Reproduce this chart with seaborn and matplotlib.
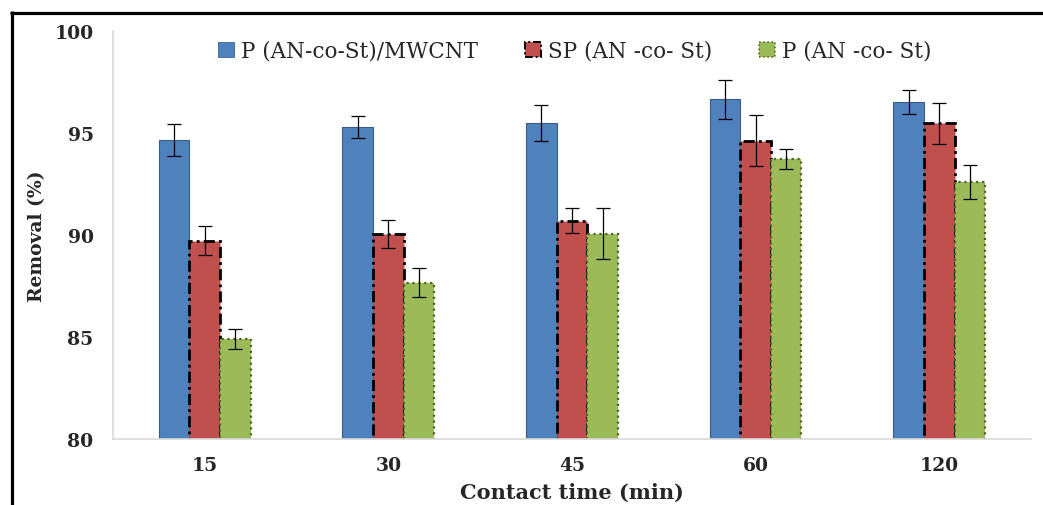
import matplotlib
matplotlib.use("Agg")
import matplotlib.pyplot as plt
from matplotlib.lines import Line2D
from matplotlib.patches import Patch
import seaborn as sns
import pandas as pd
import numpy as np

# Removal efficiency vs. contact time for three adsorbents
times = ["15", "30", "45", "60", "120"]
materials = ["P (AN-co-St)/MWCNT", "SP (AN -co- St)", "P (AN -co- St)"]
removal_mwcnt = [94.66, 95.29, 95.47, 96.65, 96.52]
removal_sp = [89.73, 90.05, 90.70, 94.62, 95.47]
removal_p = [84.90, 87.66, 90.07, 93.72, 92.60]
err_mwcnt = [0.78, 0.55, 0.88, 0.95, 0.60]
err_sp = [0.73, 0.70, 0.60, 1.26, 1.00]
err_p = [0.50, 0.70, 1.26, 0.50, 0.85]

series_values = [removal_mwcnt, removal_sp, removal_p]
series_errors = [err_mwcnt, err_sp, err_p]
colors = ["#4F81BD", "#C0504D", "#9BBB59"]
edge_colors = ["#385D8A", "#000000", "#4F6228"]
edge_styles = ["-", (0, (4, 1.5, 1, 1.5)), ":"]
edge_widths = [0.8, 2.0, 1.6]

df = pd.DataFrame({
    "time": times * 3,
    "removal": removal_mwcnt + removal_sp + removal_p,
    "material": [m for m in materials for _ in times],
})

sns.set_theme(style="white")
plt.rcParams["font.family"] = ["DejaVu Serif"]

fig = plt.figure(figsize=(10.43, 5.06), dpi=100)
ax = fig.add_axes([0.1083, 0.1304, 0.8802, 0.8064])

sns.barplot(data=df, x="time", y="removal", hue="material", order=times,
            hue_order=materials, palette=colors, saturation=1, width=0.5,
            gap=0, errorbar=None, ax=ax, legend=False)

# Bar outlines and error bars, one container per material
for cont, ec, ls, lw, errs in zip(ax.containers, edge_colors, edge_styles,
                                  edge_widths, series_errors):
    xs, ys = [], []
    for bar in cont.patches:
        bar.set_edgecolor(ec)
        bar.set_linestyle(ls)
        bar.set_linewidth(lw)
        xs.append(bar.get_x() + bar.get_width() / 2)
        ys.append(bar.get_height() + bar.get_y())
    ax.errorbar(xs, ys, yerr=errs, fmt="none", ecolor="black",
                elinewidth=0.9, capsize=5, capthick=0.9, zorder=5)

ax.set_ylim(80, 100)
ax.set_yticks([80, 85, 90, 95, 100])
ax.set_xlim(-0.5, len(times) - 0.5)
for side in ["top", "right"]:
    ax.spines[side].set_visible(False)
for side in ["left", "bottom"]:
    ax.spines[side].set_color("#d9d9d9")
    ax.spines[side].set_linewidth(1.2)

ax.tick_params(axis="y", length=5, color="#d9d9d9", pad=9, labelsize=13.5)
ax.tick_params(axis="x", length=0, pad=12, labelsize=13.5)
for lab in ax.get_xticklabels() + ax.get_yticklabels():
    lab.set_fontweight("bold")

ax.set_xlabel("Contact time (min)", fontsize=15, fontweight="bold", labelpad=6)
ax.set_ylabel("Removal (%)", fontsize=13.5, fontweight="bold", labelpad=6)

handles = [Patch(facecolor=c, edgecolor=ec, linestyle=ls, linewidth=lw * 0.7)
           for c, ec, ls, lw in zip(colors, edge_colors, edge_styles, edge_widths)]
ax.legend(handles, materials, loc="center", bbox_to_anchor=(0.503, 0.951),
          ncol=3, frameon=False, fontsize=15.5, handlelength=0.75,
          handleheight=0.75, handletextpad=0.3, columnspacing=2.2)

# Frame lines along the top and left of the figure
fig.add_artist(Line2D([10 / 1043, 1.0], [1 - 13.5 / 506, 1 - 13.5 / 506],
                      transform=fig.transFigure, color="black", linewidth=2.3,
                      solid_capstyle="butt"))
fig.add_artist(Line2D([11.5 / 1043, 11.5 / 1043], [0, 1 - 12 / 506],
                      transform=fig.transFigure, color="black", linewidth=2.3,
                      solid_capstyle="butt"))

fig.savefig("out.png", dpi=100, facecolor="white")
